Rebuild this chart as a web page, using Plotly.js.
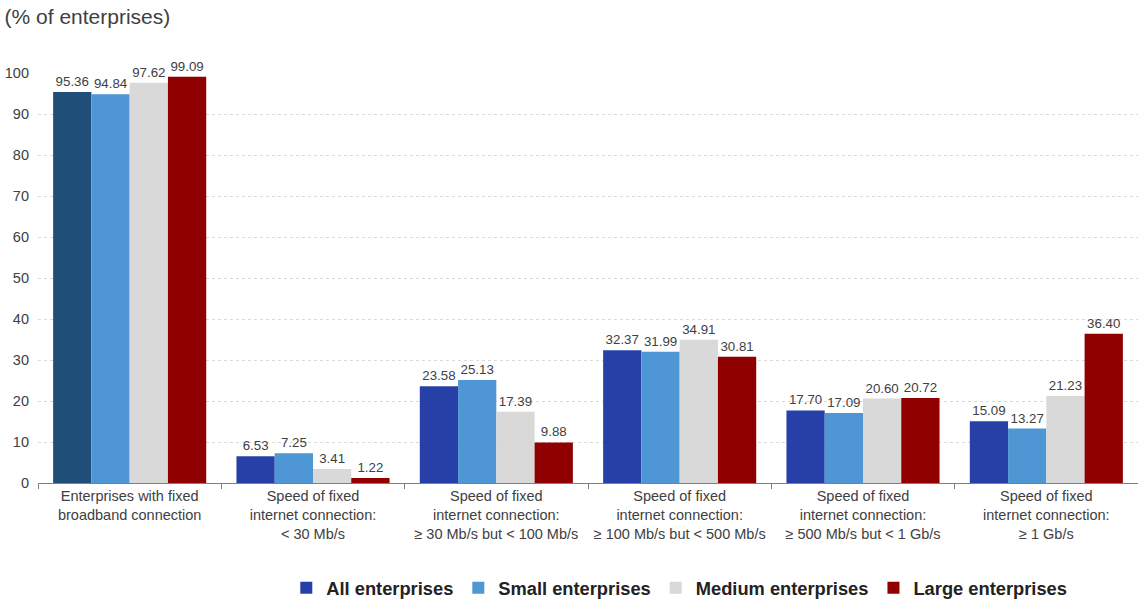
<!DOCTYPE html>
<html><head><meta charset="utf-8">
<script src="https://cdn.plot.ly/plotly-3.0.1.min.js"></script>
<style>body{margin:0;background:#fff}#chart{width:1138px;height:600px}</style>
</head><body><div id="chart"></div>
<script>
const categories = [
  "Enterprises with fixed<br>broadband connection",
  "Speed of fixed<br>internet connection:<br>< 30 Mb/s",
  "Speed of fixed<br>internet connection:<br>≥ 30 Mb/s but < 100 Mb/s",
  "Speed of fixed<br>internet connection:<br>≥ 100 Mb/s but < 500 Mb/s",
  "Speed of fixed<br>internet connection:<br>≥ 500 Mb/s but < 1 Gb/s",
  "Speed of fixed<br>internet connection:<br>≥ 1 Gb/s"
];
const allEnt = [95.36, 6.53, 23.58, 32.37, 17.70, 15.09];
const smallEnt = [94.84, 7.25, 25.13, 31.99, 17.09, 13.27];
const mediumEnt = [97.62, 3.41, 17.39, 34.91, 20.60, 21.23];
const largeEnt = [99.09, 1.22, 9.88, 30.81, 20.72, 36.40];
const seriesNames = ["All enterprises", "Small enterprises", "Medium enterprises", "Large enterprises"];

const colAll = "#2640A8", colAllFirst = "#1F4E79";
const colors = [allEnt.map((v,i)=> i===0 ? colAllFirst : colAll), "#4F97D4", "#D9D9D9", "#900000"];
const groups = ["a","b","c","d"];
const data = [allEnt, smallEnt, mediumEnt, largeEnt].map((vals, k) => ({
  type: "bar",
  name: seriesNames[k],
  x: categories,
  y: vals,
  offsetgroup: groups[k],
  marker: {color: colors[k]},
  text: vals.map(v => v.toFixed(2)),
  textposition: "outside",
  textfont: {family: "Liberation Sans, Arial", size: 13.3, color: "#404040"},
  cliponaxis: false,
  hoverinfo: "x+y",
  legendrank: k + 1
}));
data[0].showlegend = false;
// legend-only entry for "All enterprises" with its regular colour
data.unshift({
  type: "bar", name: seriesNames[0], x: categories, y: categories.map(() => null),
  offsetgroup: "a", marker: {color: colAll}, legendrank: 1, hoverinfo: "skip"
});

const layout = {
  width: 1138, height: 600,
  margin: {l: 38, r: 0, t: 73, b: 117, autoexpand: false},
  paper_bgcolor: "#fff", plot_bgcolor: "#fff",
  font: {family: "Liberation Sans, Arial", color: "#404040"},
  barmode: "group",
  bargap: 0.165,
  bargroupgap: 0,
  title: {text: "(% of enterprises)", x: 0.004, xanchor: "left", y: 0.985, yanchor: "top",
          font: {size: 21, color: "#404040", family: "Liberation Sans, Arial"}},
  xaxis: {
    type: "category",
    tickson: "boundaries",
    ticks: "outside", ticklen: 5, tickcolor: "#808080",
    showline: true, linecolor: "#808080", linewidth: 1,
    tickfont: {size: 14.5, color: "#404040"},
    showgrid: false, automargin: false
  },
  yaxis: {
    range: [0, 100],
    dtick: 10,
    showgrid: true, gridcolor: "#DADADA", griddash: "dot",
    zeroline: false, showline: false,
    tickfont: {size: 14.5, color: "#404040"},
    ticks: "", ticklabelstandoff: 8, automargin: false
  },
  legend: {
    orientation: "h", x: 0.583, xanchor: "center", y: -0.256, yanchor: "middle",
    font: {size: 18.3, color: "#222", family: "Liberation Sans, Arial", weight: "bold"},
    itemwidth: 30, tracegroupgap: 0, traceorder: "normal"
  },
  showlegend: true
};
Plotly.newPlot("chart", data, layout, {displayModeBar: false});
</script></body></html>
